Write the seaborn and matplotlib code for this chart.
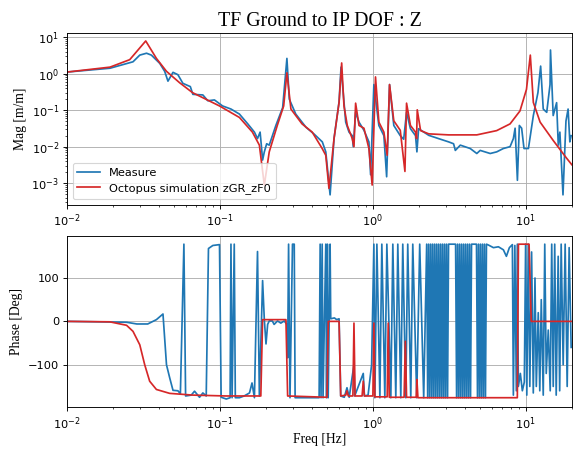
import matplotlib
matplotlib.use("Agg")
import matplotlib.pyplot as plt
import seaborn as sns

SERIF = "Liberation Serif"
BLUE = "#1f77b4"
RED = "#d62728"
DPI = 82

# ── Magnitude: measurement ───────────────────────────────────────────
meas_freq = [0.01, 0.0191, 0.0270, 0.0299, 0.0331, 0.0356, 0.0404, 0.0435, 0.0457, 0.0493,
             0.0531, 0.0572, 0.0617, 0.0640, 0.0665, 0.0773, 0.0833, 0.092, 0.104, 0.118,
             0.134, 0.152, 0.168, 0.176, 0.183, 0.186, 0.190, 0.195, 0.202, 0.210,
             0.232, 0.257, 0.274, 0.284, 0.313, 0.365, 0.413, 0.467, 0.492, 0.525,
             0.557, 0.601, 0.619, 0.664, 0.698, 0.733, 0.744, 0.771, 0.811, 0.874,
             0.942, 0.966, 1.015, 1.094, 1.18, 1.23, 1.285, 1.37, 1.51, 1.59,
             1.66, 1.76, 1.90, 1.94, 1.99, 2.32, 2.69, 3.13, 3.37, 3.46,
             3.73, 4.33, 4.78, 5.03, 5.85, 6.45, 7.13, 7.89, 8.29, 8.51,
             8.81, 9.07, 9.39, 9.73, 10.4, 11.2, 12.0, 12.5, 13.0, 13.7,
             14.4, 14.5, 15.1, 15.9, 16.3, 16.7, 17.5, 18.3, 18.9, 19.4,
             19.8]
meas_mag = [1.1, 1.4, 2.1, 3.2, 3.6, 3.2, 1.9, 1.15, 0.62, 1.08,
            0.93, 0.54, 0.47, 0.44, 0.27, 0.26, 0.18, 0.19, 0.13, 0.107,
            0.078, 0.042, 0.025, 0.0166, 0.025, 0.012, 0.0043, 0.0072, 0.012, 0.011,
            0.038, 0.117, 2.6, 0.2, 0.078, 0.034, 0.022, 0.0135, 0.0072, 0.00048,
            0.0166, 0.17, 1.5, 0.047, 0.025, 0.02, 0.01, 0.087, 0.047, 0.028,
            0.0135, 0.0017, 0.5, 0.038, 0.02, 0.0015, 0.5, 0.038, 0.02, 0.016,
            0.087, 0.031, 0.02, 0.0072, 0.031, 0.0204, 0.0166, 0.0135, 0.012, 0.0079,
            0.011, 0.0089, 0.0065, 0.0079, 0.0065, 0.0072, 0.0089, 0.010, 0.0166, 0.032,
            0.0012, 0.038, 0.032, 0.0089, 0.0089, 0.071, 0.30, 1.6, 0.107, 0.087,
            0.5, 4.4, 0.071, 0.16, 0.011, 0.025, 0.00048, 0.05, 0.107, 0.0135,
            0.02]

# ── Magnitude: simulation ────────────────────────────────────────────
sim_freq = [0.01, 0.0191, 0.0257, 0.0327, 0.0384, 0.0447, 0.0545, 0.0662, 0.0993, 0.134,
            0.163, 0.181, 0.195, 0.210, 0.237, 0.261, 0.274, 0.291, 0.344, 0.401,
            0.466, 0.492, 0.516, 0.557, 0.601, 0.625, 0.647, 0.680, 0.733, 0.752,
            0.771, 0.811, 0.874, 0.942, 0.989, 1.04, 1.094, 1.18, 1.24, 1.285,
            1.37, 1.51, 1.62, 1.66, 1.76, 1.90, 1.93, 1.95, 2.05, 2.32,
            3.13, 4.78, 6.45, 7.89, 9.16, 10.1, 10.7, 11.2, 12.4, 15.1,
            18.5, 20.0]
sim_mag = [1.1, 1.5, 2.4, 7.8, 2.6, 1.15, 0.56, 0.30, 0.13, 0.063,
           0.025, 0.011, 0.00089, 0.0072, 0.038, 0.13, 1.05, 0.107, 0.042, 0.025,
           0.0089, 0.0058, 0.00072, 0.0166, 0.162, 1.95, 0.13, 0.038, 0.0166, 0.010,
           0.155, 0.038, 0.032, 0.0089, 0.00089, 0.81, 0.047, 0.025, 0.0058, 0.50,
           0.051, 0.028, 0.0021, 0.155, 0.038, 0.025, 0.0166, 0.102, 0.0275, 0.0224,
           0.021, 0.021, 0.0275, 0.042, 0.095, 0.37, 3.2, 0.162, 0.047, 0.0148,
           0.0048, 0.0032]

# ── Phase: simulation ────────────────────────────────────────────────
sim_ph_freq = [0.01, 0.019, 0.0245, 0.027, 0.0299, 0.0322, 0.0347, 0.0384, 0.0469, 0.0665,
               0.110, 0.185, 0.190, 0.270, 0.277, 0.501, 0.511, 0.601, 0.616, 0.665,
               0.677, 0.69, 0.74, 0.752, 0.765, 0.85, 0.865, 0.88, 1.00, 1.015,
               1.03, 1.24, 1.26, 1.28, 1.60, 1.63, 1.66, 1.92, 1.94, 1.97,
               8.8, 8.95, 10.5, 10.85, 20.0]
sim_ph = [0, -1, -9, -23, -54, -100, -138, -157, -166, -170,
          -172, -172, 4, 4, -172, -175, 0, 0, -172, -170,
          -160, -172, -172, -4, -172, -172, -138, -172, -172, -4,
          -174, -174, -4, -175, -175, -46, -175, -175, -134, -176,
          -176, 178, 178, 0, 0]

# ── Phase: measurement (wraps between +/-180 above 1 Hz) ─────────────
meas_ph_freq = [0.01, 0.0245, 0.0286, 0.0337, 0.0384, 0.0424, 0.0447, 0.0469, 0.0493, 0.0531,
                0.0551, 0.0581, 0.0596, 0.0649, 0.0682, 0.0735, 0.0773, 0.0813, 0.0841, 0.0898,
                0.0993, 0.1018, 0.110, 0.1165, 0.118, 0.120, 0.124, 0.126, 0.134, 0.144,
                0.156, 0.162, 0.168, 0.176, 0.181, 0.190, 0.195, 0.200, 0.205, 0.210,
                0.220, 0.226, 0.238, 0.250, 0.263, 0.274, 0.277, 0.281, 0.287, 0.298,
                0.306, 0.310, 0.330, 0.445, 0.452, 0.458, 0.466, 0.472, 0.492, 0.498,
                0.504, 0.510, 0.525, 0.530, 0.56, 0.58, 0.601, 0.616, 0.65, 0.677,
                0.70, 0.752, 0.76, 0.865, 0.88, 0.93, 0.981, 1.015,
                1.030, 1.062, 1.111, 1.144, 1.197, 1.234, 1.310, 1.350, 1.412, 1.455,
                1.522, 1.568, 1.641, 1.690, 1.769, 1.823, 1.935, 2.024, 2.149,
                2.248, 2.282, 2.316, 2.351, 2.387, 2.423, 2.459, 2.496, 2.534, 2.572,
                2.611, 2.650, 2.690, 2.731, 2.772, 2.814, 2.856, 2.899, 2.943, 2.987,
                3.032, 3.078, 3.124,
                3.474, 3.527, 3.580, 3.634, 3.689, 3.745, 3.801, 3.859, 3.917, 3.976,
                4.036, 4.097, 4.159, 4.222, 4.286, 4.350, 4.416,
                4.759, 4.831, 4.904, 4.978, 5.053, 5.129, 5.207, 5.285, 5.365, 5.446,
                5.528, 5.698, 6.141, 6.619, 7.135, 7.464, 7.806, 8.167, 8.290, 8.478,
                8.671, 8.802, 8.935, 9.209, 9.489, 9.777, 9.97, 10.15, 10.38, 10.62,
                10.91, 11.19, 11.48, 11.71, 12.06, 12.34, 12.62, 13.00, 13.30, 13.60,
                14.02, 14.44, 14.77, 15.11, 15.45, 15.80, 16.28, 16.65, 17.03, 17.55,
                18.08, 18.64, 19.20, 19.79]
meas_ph = [0, -2, -6, -6, 4, 17, -100, -130, -159, -160,
           -167, 178, -172, -170, -161, -175, -165, -172, 168, 175,
           177, -175, -179, -176, 178, -176, 178, -176, -176, -172,
           -165, -142, -176, 161, -172, 94, 4, -52, -7, 1,
           1, -7, 1, -4, 1, -7, -84, 178, -176, 178,
           178, -176, -176, -176, 178, -176, 178, -176, 178, -176,
           178, -176, 178, 6, 8, 4, 6, -172, -175, -153,
           -175, -100, -172, -120, -172, -170, -100, 178,
           -176, 178, -176, 178, -176, 178, -176, 178, -176, 178,
           -176, 178, -176, 178, -176, 178, -176, 178, -176,
           178, -176, 178, -176, 178, -176, 178, -176, 178, -176,
           178, -176, 178, -176, 178, -176, 178, -176, 178, -176,
           178, -176, 178,
           178, -176, 178, -176, 178, -176, 178, -176, 178, -176,
           178, -176, 178, -176, 178, -176, 178,
           178, -176, 178, -176, 178, -176, 178, -176, 178, -176,
           178, 176, 170, 172, 165, 150, 170, 177, -170, 175,
           -160, 178, -150, -120, -160, -140, 178, -170, 178, -150,
           160, -165, 100, -150, 20, -160, 50, -170, 178, -120,
           -20, -160, 178, -150, 178, -170, 150, -160, 178, -100,
           178, -150, 170, -60]

fig, (ax1, ax2) = plt.subplots(2, 1, figsize=(573 / DPI, 450 / DPI), dpi=DPI)
fig.subplots_adjust(left=0.117, right=0.998, top=0.927, bottom=0.095, hspace=0.18)

# top: magnitude
sns.lineplot(x=meas_freq, y=meas_mag, ax=ax1, color=BLUE, label="Measure",
             estimator=None, sort=False, linewidth=1.5)
sns.lineplot(x=sim_freq, y=sim_mag, ax=ax1, color=RED, label="Octopus simulation zGR_zF0",
             estimator=None, sort=False, linewidth=1.5)
ax1.set_xscale("log")
ax1.set_yscale("log")
ax1.set_xlim(0.01, 20)
ax1.set_ylim(2.6e-4, 13)
ax1.grid(True, which="major", color="#b0b0b0", linewidth=0.8)
ax1.legend(loc="lower left")
ax1.set_xlabel("")
ax1.set_ylabel("Mag [m/m]", family=SERIF, fontsize=12)
ax1.set_title("TF Ground to IP DOF : Z", family=SERIF, fontsize=17.5)

# bottom: phase
sns.lineplot(x=meas_ph_freq, y=meas_ph, ax=ax2, color=BLUE,
             estimator=None, sort=False, linewidth=1.5)
sns.lineplot(x=sim_ph_freq, y=sim_ph, ax=ax2, color=RED,
             estimator=None, sort=False, linewidth=1.5)
ax2.set_xscale("log")
ax2.set_xlim(0.01, 20)
ax2.set_ylim(-198, 198)
ax2.grid(True, which="major", color="#b0b0b0", linewidth=0.8)
ax2.set_xlabel("Freq [Hz]", family=SERIF, fontsize=12, labelpad=1)
ax2.set_ylabel("Phase [Deg]", family=SERIF, fontsize=12)

fig.savefig("out.png", dpi=DPI)
